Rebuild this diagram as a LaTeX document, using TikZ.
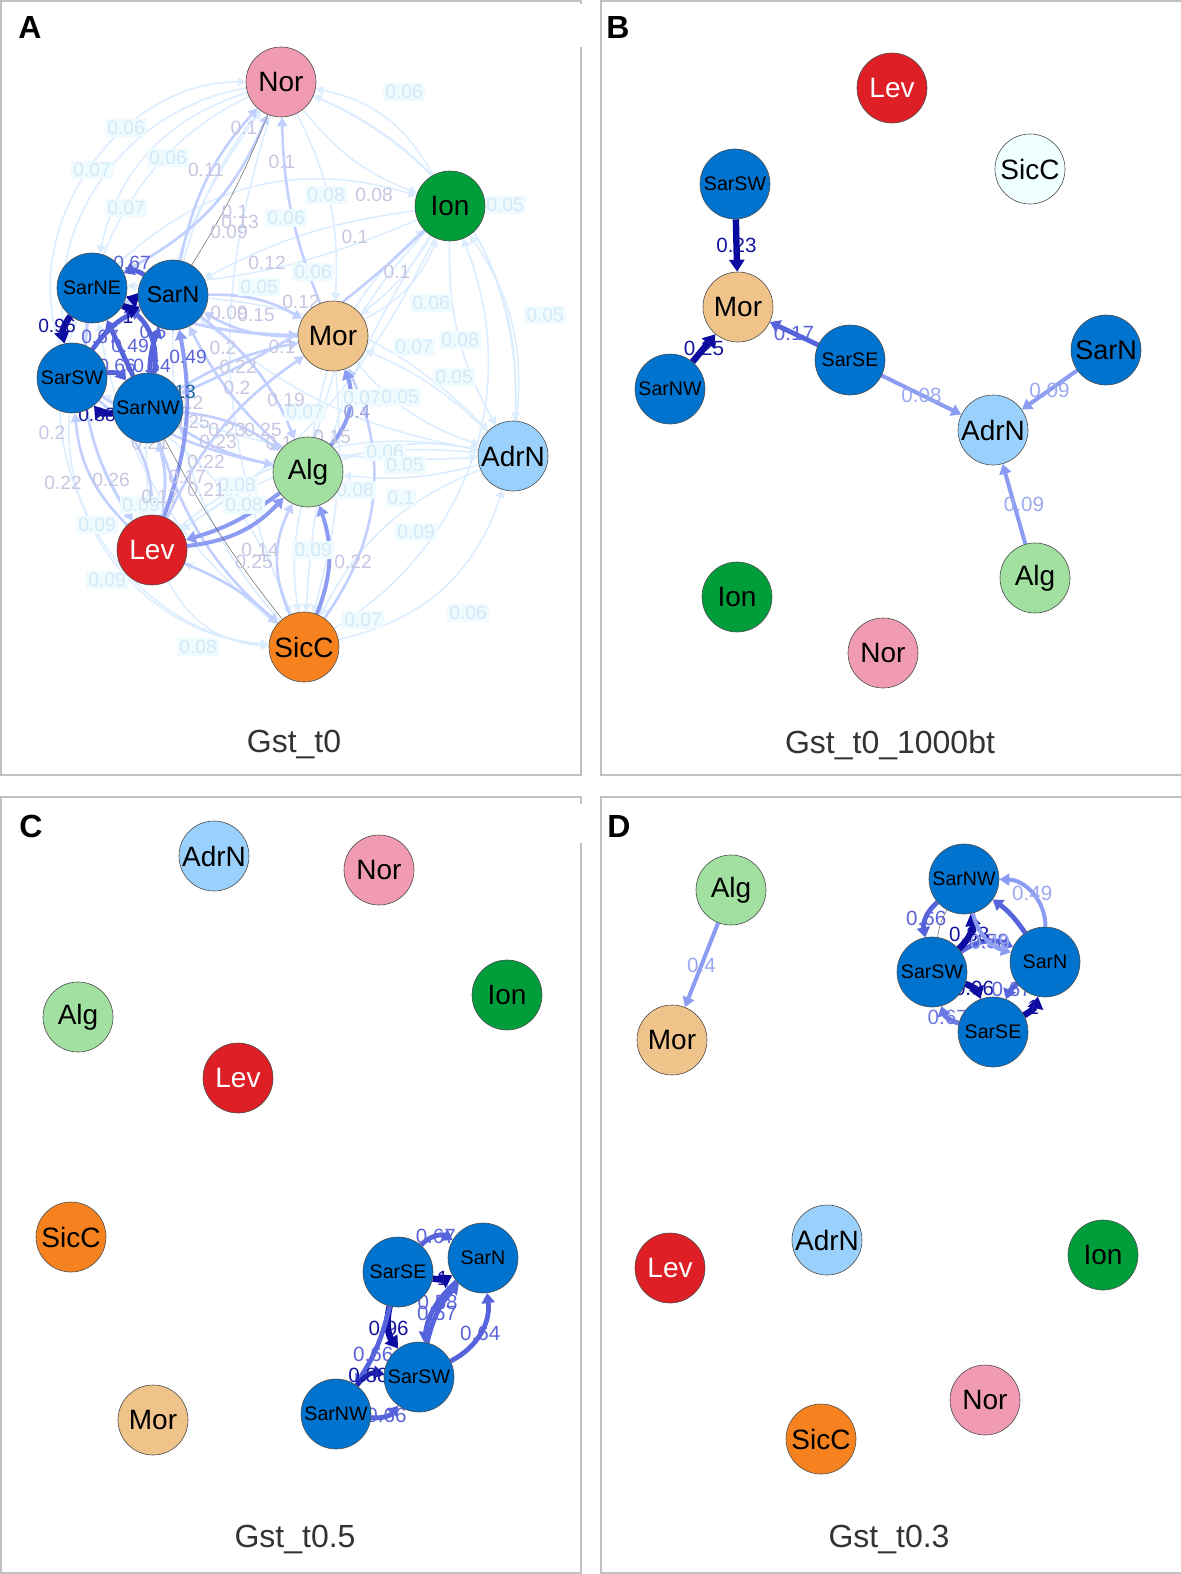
\documentclass[tikz,border=0pt]{standalone}
\usepackage{fontspec}
\setmainfont{Liberation Sans}
\usetikzlibrary{arrows.meta,positioning}
\pgfdeclarelayer{edges}
\pgfsetlayers{edges,main}
\definecolor{sarblue}{HTML}{0073CF}
\definecolor{norpink}{HTML}{F09BB1}
\definecolor{iongreen}{HTML}{009E3A}
\definecolor{morsand}{HTML}{EFC389}
\definecolor{alggreen}{HTML}{A1E0A0}
\definecolor{adrblue}{HTML}{99D1FC}
\definecolor{levred}{HTML}{DF1F26}
\definecolor{sicorange}{HTML}{F5821F}
\definecolor{sicpale}{HTML}{F0FFFF}
\definecolor{wdark}{HTML}{0A0AA0}
\definecolor{wmid}{HTML}{5563DC}
\definecolor{wlight}{HTML}{8C9CF2}
\definecolor{wpale}{HTML}{C2D0FF}
\definecolor{wfaint}{HTML}{DCEDFF}
\definecolor{labdark}{HTML}{1414A0}
\definecolor{labmid}{HTML}{5A64D8}
\definecolor{lablight}{HTML}{9AA8F0}
\definecolor{labpale}{HTML}{C6C6E2}
\definecolor{labfaint}{HTML}{D2E9F8}
\definecolor{boxfaint}{HTML}{F0FBFF}
\definecolor{labteal}{HTML}{1A64A0}
\definecolor{framegray}{HTML}{C0C0C0}
\definecolor{titlegray}{HTML}{333333}
\tikzstyle{pop} = [circle, draw=black!70, line width=0.3pt, minimum size=35pt, inner sep=0pt, font=\fontsize{14}{14}\selectfont]
\tikzstyle{sar} = [pop, fill=sarblue, font=\fontsize{9.8}{10}\selectfont]
\tikzstyle{sarn} = [pop, fill=sarblue, font=\fontsize{11.5}{12}\selectfont]
\tikzstyle{wt} = [font=\fontsize{10.3}{10}\selectfont, inner sep=0pt]
\tikzstyle{wa} = [font=\fontsize{9.6}{10}\selectfont, inner sep=0pt]
\tikzstyle{title} = [font=\fontsize{16}{16}\selectfont, text=titlegray]
\tikzstyle{tag} = [font=\bfseries\fontsize{16}{16}\selectfont]
\tikzstyle{frame} = [draw=framegray, line width=0.8pt]
\tikzstyle{strong} = [draw=wdark, line width=3.2pt, -{Triangle[length=6pt,width=7.5pt]}]
\tikzstyle{medium} = [draw=wmid, line width=2.4pt, -{Triangle[length=5pt,width=6.5pt]}]
\tikzstyle{weak} = [draw=wlight, line width=2pt, -{Triangle[length=5pt,width=6pt]}]
\tikzstyle{pale} = [draw=wpale, line width=1.3pt, -{Triangle[length=4.5pt,width=5pt]}]
\tikzstyle{faint} = [draw=wfaint, line width=0.8pt, -{Triangle[length=4pt,width=4.5pt]}]
\tikzstyle{hairline} = [draw=black!60, line width=0.25pt]

\begin{document}
\begin{tikzpicture}[x=0.5pt, y=-0.5pt]
	\useasboundingbox (0,0) rectangle (1181,1574);
	% frames
	\draw[frame] (581,4) -- (581,1) -- (1,1) -- (1,775) -- (581,775) -- (581,47);
	\draw[frame] (1181,1) -- (601,1) -- (601,775) -- (1181,775);
	\draw[frame] (581,804) -- (581,797) -- (1,797) -- (1,1573) -- (581,1573) -- (581,843);
	\draw[frame] (1181,797) -- (601,797) -- (601,1573) -- (1181,1573);
	% Panel A
	\node[tag] (atag) at (30,27) {A};
	\node[title] (atitle) at (294,744) {Gst\_t0};
	\node[pop, fill=norpink] (aNor) at (281,82) {Nor};
	\node[pop, fill=iongreen] (aIon) at (450,206) {Ion};
	\node[sar] (aSarNE) at (92,288) {SarNE};
	\node[sarn] (aSarN) at (173,295) {SarN};
	\node[pop, fill=morsand] (aMor) at (333,336) {Mor};
	\node[sar] (aSarSW) at (72,378) {SarSW};
	\node[sar] (aSarNW) at (148,408) {SarNW};
	\node[pop, fill=alggreen] (aAlg) at (308,472) {Alg};
	\node[pop, fill=adrblue] (aAdrN) at (513,456) {AdrN};
	\node[pop, fill=levred, text=white] (aLev) at (152,550) {Lev};
	\node[pop, fill=sicorange] (aSicC) at (304,647) {SicC};
	\begin{pgfonlayer}{edges}
	\foreach \s/\t/\b in {Ion/Nor/-25, AdrN/Nor/-35, Nor/Ion/-15, SicC/AdrN/-30, AdrN/SicC/-20,
		SicC/Ion/-40, Ion/SicC/-15, Lev/SicC/-30, SicC/Lev/-10, SarSW/SicC/-45, SarNE/SicC/-55,
		Nor/SarNE/-30, Nor/SarSW/-45, SarSW/Nor/55, Nor/Lev/-50, Lev/Nor/20, Nor/AdrN/35,
		AdrN/Ion/-20, Ion/AdrN/-15, Lev/AdrN/25, Alg/AdrN/15, Mor/AdrN/-15, SarN/AdrN/20,
		SarNW/AdrN/-10, SarNE/Ion/30, Ion/SarN/-10, Ion/SarNE/10, Nor/Mor/15, Ion/Mor/10,
		Ion/Alg/-15, Ion/Lev/15, Mor/Ion/-20, Alg/Ion/20, AdrN/Lev/-20, AdrN/Alg/10,
		AdrN/Mor/-10, Nor/SicC/-20, SicC/Nor/40, Mor/SicC/10, Alg/SicC/-10, SicC/SarSW/-20,
		SicC/SarNE/20, AdrN/SarN/15}
		\draw[faint] (a\s) to[bend left=\b] (a\t);
	\foreach \s/\t/\b in {SarN/Mor/15, Mor/SarN/15, SarNW/Mor/10, SarNW/Alg/15, Alg/SarNW/10,
		SarSW/Lev/25, Lev/SarSW/20, SarNE/Lev/-20, SarNW/Lev/15, Lev/SarNW/-15, SarN/Alg/15,
		Alg/SarN/10, SicC/Alg/25, SicC/Mor/-30, Lev/Mor/15, SarN/Nor/15, SarNE/Nor/-20,
		Mor/Nor/10, Ion/SarNW/10, Mor/SarNE/10, SarSW/Alg/-10, SarNE/Mor/-10, Lev/SicC/10,
		SarNW/SicC/-15}
		\draw[pale] (a\s) to[bend left=\b] (a\t);
	\foreach \s/\t/\b in {Alg/Mor/-30, Lev/Alg/-20, Alg/Lev/10, Lev/SarN/-15, SicC/Alg/-20}
		\draw[weak] (a\s) to[bend left=\b] (a\t);
	\foreach \s/\t/\b in {SarN/SarNE/-30, SarSW/SarN/15, SarNW/SarN/10, SarNW/SarNE/0,
		SarSW/SarNW/30, SarNW/SarNE/-35}
		\draw[medium] (a\s) to[bend left=\b] (a\t);
	\foreach \s/\t/\b in {SarNE/SarN/-25, SarN/SarNE/10, SarNE/SarSW/-25, SarNW/SarSW/30}
		\draw[strong] (a\s) to[bend left=\b] (a\t);
	\draw[hairline] (aNor) to[bend left=5] (aSarN);
	\draw[hairline] (aSarNW) to[bend right=5] (aSicC);
	% weights of panel A
	\foreach \x/\y/\w [count=\i] in {404/92/0.06, 126/128/0.06, 92/170/0.07, 168/158/0.06,
		126/208/0.07, 326/195/0.08, 505/205/0.05, 286/218/0.06, 313/272/0.06, 259/287/0.05,
		431/303/0.06, 545/315/0.05, 414/347/0.07, 460/340/0.08, 454/377/0.05, 305/412/0.07,
		362/398/0.07, 400/397/0.05, 237/485/0.08, 244/505/0.08, 141/505/0.09, 97/525/0.09,
		107/580/0.09, 313/550/0.09, 198/647/0.08, 363/620/0.07, 468/613/0.06, 416/532/0.09,
		401/498/0.1, 385/452/0.06, 405/465/0.05, 355/490/0.08}
		\node[wa, text=labfaint, fill=boxfaint, inner sep=1pt] (afw\i) at (\x,\y) {\w};
	\foreach \x/\y/\w [count=\i] in {244/128/0.1, 206/170/0.11, 282/162/0.1, 374/195/0.08,
		235/212/0.1, 240/222/0.13, 229/232/0.09, 355/237/0.1, 267/263/0.12, 397/272/0.1,
		301/302/0.12, 229/313/0.09, 256/315/0.15, 282/347/0.1, 223/348/0.2, 238/367/0.22,
		237/388/0.2, 286/400/0.19, 190/403/0.2, 191/422/0.25, 227/430/0.23, 263/430/0.25,
		279/443/0.1, 332/437/0.15, 150/443/0.21, 218/442/0.23, 206/462/0.22, 187/477/0.17,
		206/490/0.21, 52/433/0.2, 63/483/0.22, 111/480/0.26, 160/497/0.17, 260/550/0.14,
		254/562/0.25, 353/562/0.22}
		\node[wa, text=labpale] (apw\i) at (\x,\y) {\w};
	\node[wa, text=labpale!60!labmid] (afour) at (357,412) {0.4};
	\foreach \x/\y/\w [count=\i] in {132/263/0.67, 100/337/0.67, 153/332/0.5, 130/346/0.49,
		188/357/0.49, 117/366/0.66, 152/366/0.64}
		\node[wa, text=labmid] (amw\i) at (\x,\y) {\w};
	\foreach \x/\y/\w [count=\i] in {128/317/1, 57/326/0.96, 97/415/0.88}
		\node[wa, text=labdark] (adw\i) at (\x,\y) {\w};
	\node[wa, text=labteal] (ateal) at (177,392) {0.13};
	\end{pgfonlayer}
	% Panel B
	\node[tag] (btag) at (618,27) {B};
	\node[title] (btitle) at (890,745) {Gst\_t0\_1000bt};
	\node[pop, fill=levred, text=white] (bLev) at (892,88) {Lev};
	\node[pop, fill=sicpale] (bSicC) at (1030,169) {SicC};
	\node[sar] (bSarSW) at (735,184) {SarSW};
	\node[pop, fill=morsand] (bMor) at (738,307) {Mor};
	\node[sar] (bSarSE) at (850,360) {SarSE};
	\node[pop, fill=sarblue, font=\fontsize{13.5}{14}\selectfont] (bSarN) at (1106,350) {SarN};
	\node[sar] (bSarNW) at (670,389) {SarNW};
	\node[pop, fill=adrblue] (bAdrN) at (993,430) {AdrN};
	\node[pop, fill=alggreen] (bAlg) at (1035,578) {Alg};
	\node[pop, fill=iongreen] (bIon) at (737,597) {Ion};
	\node[pop, fill=norpink] (bNor) at (883,653) {Nor};
	\begin{pgfonlayer}{edges}
	\draw[strong] (bSarSW) -- node[wt, text=labdark] {0.23} (bMor);
	\draw[strong] (bSarNW) -- node[wt, text=labdark] {0.25} (bMor);
	\draw[medium] (bSarSE) -- node[wt, text=labmid] {0.17} (bMor);
	\draw[weak] (bSarSE) -- node[wt, text=lablight] {0.08} (bAdrN);
	\draw[weak] (bSarN) -- node[wt, text=lablight] {0.09} (bAdrN);
	\draw[weak] (bAlg) -- node[wt, text=lablight, xshift=5pt] {0.09} (bAdrN);
	\end{pgfonlayer}
	% Panel C
	\node[tag] (ctag) at (31,826) {C};
	\node[title] (ctitle) at (295,1539) {Gst\_t0.5};
	\node[pop, fill=adrblue] (cAdrN) at (214,856) {AdrN};
	\node[pop, fill=norpink] (cNor) at (379,870) {Nor};
	\node[pop, fill=alggreen] (cAlg) at (78,1017) {Alg};
	\node[pop, fill=iongreen] (cIon) at (507,995) {Ion};
	\node[pop, fill=levred, text=white] (cLev) at (238,1078) {Lev};
	\node[pop, fill=sicorange] (cSicC) at (71,1237) {SicC};
	\node[sar] (cSarSE) at (398,1272) {SarSE};
	\node[pop, fill=sarblue, font=\fontsize{9.8}{10}\selectfont] (cSarN) at (483,1258) {SarN};
	\node[sar] (cSarSW) at (419,1377) {SarSW};
	\node[sar] (cSarNW) at (336,1414) {SarNW};
	\node[pop, fill=morsand] (cMor) at (153,1420) {Mor};
	\begin{pgfonlayer}{edges}
	\draw[medium] (cSarSE) to[bend left=40] node[wt, text=labmid] {0.67} (cSarN);
	\draw[strong] (cSarSE) to[bend right=20] node[wt, text=labdark] {1} (cSarN);
	\draw[medium] (cSarN) to[bend right=20] node[wt, text=labmid, pos=0.4] {0.58} (cSarSW);
	\draw[medium] (cSarSW) to[bend left=15] node[wt, text=labmid, pos=0.45] {0.67} (cSarN);
	\draw[medium] (cSarSW) to[bend right=35] node[wt, text=labmid] {0.64} (cSarN);
	\draw[strong] (cSarSE) to[bend right=25] node[wt, text=labdark] {0.96} (cSarSW);
	\draw[medium] (cSarSE) to[bend left=10] node[wt, text=labmid, pos=0.6] {0.66} (cSarNW);
	\draw[medium, draw=wdark!70!wmid] (cSarNW) to[bend left=30] node[wt, text=labdark] {0.88} (cSarSW);
	\draw[medium] (cSarNW) to[bend right=30] node[wt, text=labmid] {0.66} (cSarSW);
	\end{pgfonlayer}
	% Panel D
	\node[tag] (dtag) at (619,826) {D};
	\node[title] (dtitle) at (889,1539) {Gst\_t0.3};
	\node[pop, fill=alggreen] (dAlg) at (731,890) {Alg};
	\node[pop, fill=morsand] (dMor) at (672,1040) {Mor};
	\node[sar] (dSarNW) at (964,879) {SarNW};
	\node[sar] (dSarSW) at (932,972) {SarSW};
	\node[pop, fill=sarblue, font=\fontsize{9.8}{10}\selectfont] (dSarN) at (1045,962) {SarN};
	\node[sar] (dSarSE) at (993,1032) {SarSE};
	\node[pop, fill=levred, text=white] (dLev) at (670,1268) {Lev};
	\node[pop, fill=adrblue] (dAdrN) at (827,1240) {AdrN};
	\node[pop, fill=iongreen] (dIon) at (1103,1255) {Ion};
	\node[pop, fill=norpink] (dNor) at (985,1400) {Nor};
	\node[pop, fill=sicorange] (dSicC) at (821,1439) {SicC};
	\begin{pgfonlayer}{edges}
	\draw[weak] (dAlg) -- node[wt, text=lablight] {0.4} (dMor);
	\draw[weak] (dSarN) to[bend right=45] node[wt, text=lablight] {0.49} (dSarNW);
	\draw[medium] (dSarN) to[bend right=10] (dSarNW);
	\draw[medium] (dSarNW) to[bend right=30] node[wt, text=labmid] {0.66} (dSarSW);
	\draw[medium] (dSarSW) to[bend left=30] node[wt, text=labmid, pos=0.55] {0.58} (dSarN);
	\draw[strong] (dSarSW) to[bend right=30] node[wt, text=labdark, pos=0.45] {0.88} (dSarNW);
	\draw[weak] (dSarNW) to[bend right=30] node[wt, text=lablight, pos=0.6] {0.49} (dSarN);
	\draw[strong] (dSarSW) to[bend left=25] node[wt, text=labdark, pos=0.45] {0.96} (dSarSE);
	\draw[medium] (dSarN) to[bend right=15] node[wt, text=labmid, pos=0.4] {0.67} (dSarSE);
	\draw[strong] (dSarSE) to[bend right=25] node[wt, text=labdark] {1} (dSarN);
	\draw[medium, draw=wmid!60!wlight] (dSarSE) to[bend left=30] node[wt, text=labmid!70!lablight] {0.67} (dSarSW);
	\draw[hairline] (dSarNW) to[bend right=10] (dSarSW);
	\end{pgfonlayer}
\end{tikzpicture}
\end{document}
